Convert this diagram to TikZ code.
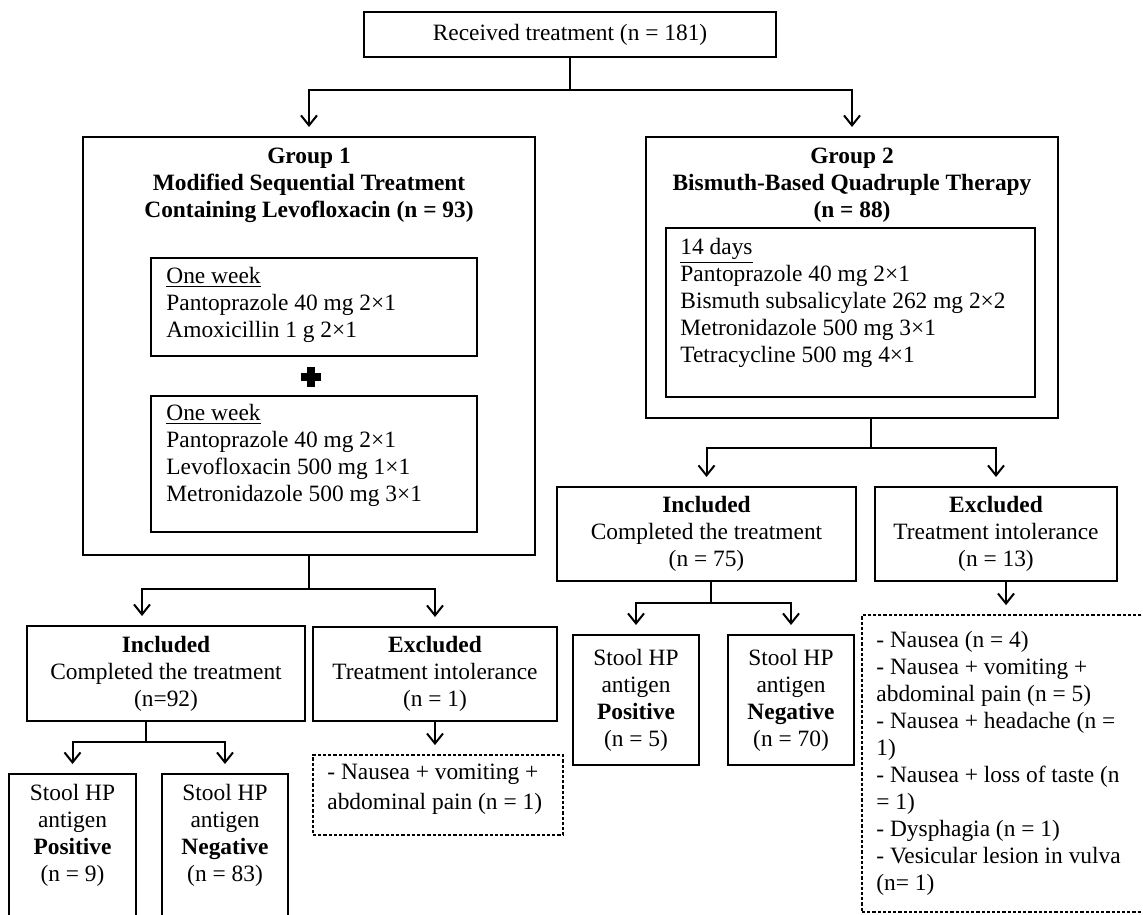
\documentclass[tikz,border=0pt]{standalone}
\usepackage{fontspec}
\setmainfont{Liberation Serif}
\usetikzlibrary{arrows.meta,calc}
\begin{document}
\begin{tikzpicture}[x=0.5pt,y=-0.5pt,
  every node/.style={font=\fontsize{11.7}{13.5}\selectfont, text=black},
  box/.style={draw, line width=1pt, inner sep=0pt, align=center},
  dbox/.style={draw, line width=0.9pt, dash pattern=on 1.6pt off 1pt, inner sep=0pt},
  txt/.style={inner sep=0pt, align=left, anchor=north west},
  ctxt/.style={inner sep=0pt, align=center, anchor=north},
  conn/.style={line width=1pt},
  arr/.style={line width=1pt, -{Straight Barb[length=5pt,width=8pt,line width=1pt]}, shorten >=4.5pt}
]
\path[use as bounding box, clip] (0,0) rectangle (1143,914);
\fill[white] (0,0) rectangle (1143,914);

% top
\node[box, minimum width=206pt, minimum height=22.5pt] (top) at (570,34.5) {Received treatment (n = 181)};

% group 1
\node[box, minimum width=226pt, minimum height=209pt] (g1) at (309,346) {};
\node[ctxt, font=\fontsize{11.7}{13.5}\selectfont\bfseries] (g1t) at (309,148) {Group 1\\Modified Sequential Treatment\\Containing Levofloxacin (n = 93)};
\node[box, minimum width=163pt, minimum height=49pt] (g1a) at (314,307) {};
\node[txt] (g1at) at (166,267) {\underline{One week}\\Pantoprazole 40 mg 2×1\\Amoxicillin 1 g 2×1};
\fill (301,373) rectangle (321,381);
\fill (307,367) rectangle (315,387);
\node[box, minimum width=163pt, minimum height=68pt] (g1b) at (314,464) {};
\node[txt] (g1bt) at (166,404) {\underline{One week}\\Pantoprazole 40 mg 2×1\\Levofloxacin 500 mg 1×1\\Metronidazole 500 mg 3×1};

% group 2
\node[box, minimum width=206pt, minimum height=140.5pt] (g2) at (852,277.5) {};
\node[ctxt, font=\fontsize{11.7}{13.5}\selectfont\bfseries] (g2t) at (852,148) {Group 2\\Bismuth-Based Quadruple Therapy\\(n = 88)};
\node[box, minimum width=184.5pt, minimum height=84.5pt] (g2a) at (850.5,312.5) {};
\node[txt] (g2at) at (680,238) {\underline{14 days}\\Pantoprazole 40 mg 2×1\\Bismuth subsalicylate 262 mg 2×2\\Metronidazole 500 mg 3×1\\Tetracycline 500 mg 4×1};

% level 2 left
\node[box, minimum width=139pt, minimum height=47.5pt] (inc1) at (166,673.5) {\textbf{Included}\\Completed the treatment\\(n=92)};
\node[box, minimum width=122pt, minimum height=47pt] (exc1) at (435,674) {\textbf{Excluded}\\Treatment intolerance\\(n = 1)};
\node[box, minimum width=63.5pt, minimum height=90pt] (sp1) at (72.5,864) {};
\node[ctxt] (sp1t) at (72.5,784) {Stool HP\\antigen\\\textbf{Positive}\\(n = 9)};
\node[box, minimum width=63pt, minimum height=90pt] (sn1) at (225,864) {};
\node[ctxt] (sn1t) at (225,784) {Stool HP\\antigen\\\textbf{Negative}\\(n = 83)};
\node[dbox, minimum width=125pt, minimum height=40pt] (d1) at (438,795) {};
\node[txt] (d1t) at (327,764) {- Nausea + vomiting +\\[1.5pt]abdominal pain (n = 1)};

% level 2 right
\node[box, minimum width=149.5pt, minimum height=47pt] (inc2) at (706.5,534) {\textbf{Included}\\Completed the treatment\\(n = 75)};
\node[box, minimum width=121pt, minimum height=47pt] (exc2) at (996,534) {\textbf{Excluded}\\Treatment intolerance\\(n = 13)};
\node[box, minimum width=63pt, minimum height=65pt] (sp2) at (636,700) {Stool HP\\antigen\\\textbf{Positive}\\(n = 5)};
\node[box, minimum width=63pt, minimum height=65pt] (sn2) at (791,700) {Stool HP\\antigen\\\textbf{Negative}\\(n = 70)};
\node[dbox, minimum width=149pt, minimum height=148.5pt] (d2) at (1011,763.5) {};
\node[txt] (d2t) at (876,631) {- Nausea (n = 4)\\- Nausea + vomiting +\\abdominal pain (n = 5)\\- Nausea + headache (n =\\1)\\- Nausea + loss of taste (n\\= 1)\\- Dysphagia (n = 1)\\- Vesicular lesion in vulva\\(n= 1)};

% connectors
\coordinate (j1) at (570,90);
\draw[conn] (top.south) -- (j1);
\draw[arr] (j1) -| (g1.north);
\draw[arr] (j1) -| (g2.north);

\coordinate (j2) at (309,589);
\coordinate (inc1in) at ($(inc1.north)+(-24,0)$);
\draw[conn] (g1.south) -- (j2);
\draw[arr] (j2) -| (inc1in);
\draw[arr] (j2) -| (exc1.north);

\coordinate (inc1out) at ($(inc1.south)+(-20,0)$);
\draw[conn] (inc1out) -- ++(0,20) coordinate (j3);
\draw[arr] (j3) -| (sp1.north);
\draw[arr] (j3) -| (sn1.north);
\draw[arr] (exc1.south) -- (exc1.south |- d1.north);

\coordinate (g2out) at ($(g2.south)+(19,0)$);
\draw[conn] (g2out) -- ++(0,29) coordinate (j4);
\draw[arr] (j4) -| (inc2.north);
\draw[arr] (j4) -| (exc2.north);

\coordinate (inc2out) at ($(inc2.south)+(4,0)$);
\draw[conn] (inc2out) -- ++(0,21) coordinate (j5);
\draw[arr] (j5) -| (sp2.north);
\draw[arr] (j5) -| (sn2.north);

\coordinate (exc2out) at ($(exc2.south)+(10,0)$);
\draw[arr] (exc2out) -- (exc2out |- d2.north);
\end{tikzpicture}
\end{document}
